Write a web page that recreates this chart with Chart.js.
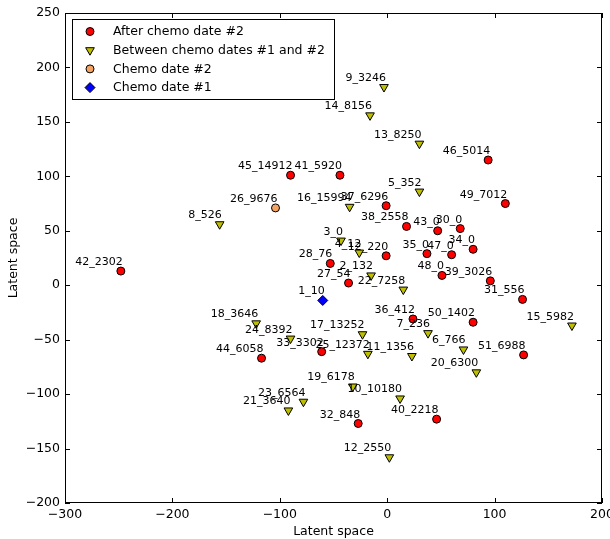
<!DOCTYPE html>
<html>
<head>
<meta charset="utf-8">
<script src="https://cdn.jsdelivr.net/npm/chart.js@4.4.0/dist/chart.umd.min.js"></script>
<style>
  body { margin: 0; background: #fff; }
</style>
</head>
<body>
<canvas id="latent" width="610" height="539"></canvas>
<script>
// After chemo date #2
const afterNames = ["42_2302", "45_14912", "41_5920", "37_6296", "46_5014", "49_7012", "38_2558", "43_0", "30_0", "12_220", "35_0", "47_0", "34_0", "28_76", "27_54", "48_0", "39_3026", "31_556", "36_412", "50_1402", "51_6988", "44_6058", "33_3302", "32_848", "40_2218"];
const afterX = [-248, -90, -44, -1, 94, 110, 18, 47, 68, -1, 37, 60, 80, -53, -36, 51, 96, 126, 24, 80, 127, -117, -61, -27, 46];
const afterY = [13, 101, 101, 73, 115, 75, 54, 50, 52, 27, 29, 28, 33, 20, 2, 9, 4, -13, -31, -34, -64, -67, -61, -127, -123];

// Between chemo dates #1 and #2
const betweenNames = ["9_3246", "14_8156", "13_8250", "5_352", "16_15994", "8_526", "3_0", "4_12", "2_132", "22_7258", "18_3646", "7_236", "17_13252", "24_8392", "25_12372", "11_1356", "15_5982", "6_766", "20_6300", "19_6178", "10_10180", "23_6564", "21_3640", "12_2550"];
const betweenX = [-3, -16, 30, 30, -35, -156, -43, -26, -15, 15, -122, 38, -23, -90, -18, 23, 172, 71, 83, -32, 12, -78, -92, 2];
const betweenY = [182, 156, 130, 86, 72, 56, 41, 30, 9, -4, -35, -44, -45, -49, -63, -65, -37, -59, -80, -93, -104, -107, -115, -158];

// Chemo date #2
const chemo2Names = ["26_9676"];
const chemo2X = [-104];
const chemo2Y = [71];

// Chemo date #1
const chemo1Names = ["1_10"];
const chemo1X = [-60];
const chemo1Y = [-14];

const FONT = "'DejaVu Sans', sans-serif";

function toPoints(xs, ys) {
  return xs.map((x, i) => ({ x: x, y: ys[i] }));
}

function minusTick(v) {
  return v < 0 ? "\u2212" + Math.abs(v) : String(v);
}

// labels next to points, box frame with inward ticks, legend inside the plot
const latentExtras = {
  id: "latentExtras",
  afterDatasetsDraw(chart) {
    const ctx = chart.ctx;
    const area = chart.chartArea;
    ctx.save();
    ctx.font = "11px " + FONT;
    ctx.fillStyle = "#000";
    ctx.textAlign = "right";
    ctx.textBaseline = "alphabetic";
    chart.data.datasets.forEach((ds, i) => {
      chart.getDatasetMeta(i).data.forEach((pt, j) => {
        ctx.fillText(ds.names[j], pt.x + 2, pt.y - 6);
      });
    });

    ctx.strokeStyle = "#000";
    ctx.lineWidth = 1;
    ctx.strokeRect(area.left + 0.5, area.top + 0.5, area.right - area.left - 1, area.bottom - area.top - 1);
    const xs = chart.scales.x;
    const ys = chart.scales.y;
    ctx.beginPath();
    xs.ticks.forEach((t) => {
      const px = Math.round(xs.getPixelForValue(t.value)) + 0.5;
      ctx.moveTo(px, area.bottom);
      ctx.lineTo(px, area.bottom - 5);
      ctx.moveTo(px, area.top);
      ctx.lineTo(px, area.top + 5);
    });
    ys.ticks.forEach((t) => {
      const py = Math.round(ys.getPixelForValue(t.value)) + 0.5;
      ctx.moveTo(area.left, py);
      ctx.lineTo(area.left + 5, py);
      ctx.moveTo(area.right, py);
      ctx.lineTo(area.right - 5, py);
    });
    ctx.stroke();
    ctx.restore();
  },
  afterDraw(chart) {
    const ctx = chart.ctx;
    const area = chart.chartArea;
    const bx = area.left + 7;
    const by = area.top + 6;
    ctx.save();
    ctx.fillStyle = "#fff";
    ctx.fillRect(bx, by, 262, 80);
    ctx.strokeStyle = "#000";
    ctx.lineWidth = 1;
    ctx.strokeRect(bx + 0.5, by + 0.5, 262, 80);
    ctx.font = "12.5px " + FONT;
    ctx.textAlign = "left";
    ctx.textBaseline = "middle";
    chart.data.datasets.forEach((ds, i) => {
      const y = by + 12.5 + i * 18.7;
      ctx.fillStyle = ds.backgroundColor;
      ctx.strokeStyle = ds.borderColor;
      ctx.lineWidth = ds.borderWidth;
      Chart.helpers.drawPoint(ctx, {
        pointStyle: ds.pointStyle,
        rotation: ds.rotation || 0,
        radius: ds.pointRadius,
        borderWidth: ds.borderWidth
      }, bx + 18, y);
      ctx.fillStyle = "#000";
      ctx.fillText(ds.label, bx + 41, y + 0.5);
    });
    ctx.restore();
  }
};

new Chart(document.getElementById("latent"), {
  type: "scatter",
  data: {
    datasets: [
      {
        label: "After chemo date #2",
        names: afterNames,
        data: toPoints(afterX, afterY),
        pointStyle: "circle",
        pointRadius: 4,
        backgroundColor: "#ff0000",
        borderColor: "#000",
        borderWidth: 1
      },
      {
        label: "Between chemo dates #1 and #2",
        names: betweenNames,
        data: toPoints(betweenX, betweenY),
        pointStyle: "triangle",
        rotation: 180,
        pointRadius: 5,
        backgroundColor: "#bfbf00",
        borderColor: "#000",
        borderWidth: 1
      },
      {
        label: "Chemo date #2",
        names: chemo2Names,
        data: toPoints(chemo2X, chemo2Y),
        pointStyle: "circle",
        pointRadius: 4,
        backgroundColor: "#f4a460",
        borderColor: "#000",
        borderWidth: 1
      },
      {
        label: "Chemo date #1",
        names: chemo1Names,
        data: toPoints(chemo1X, chemo1Y),
        pointStyle: "rectRot",
        pointRadius: 5,
        backgroundColor: "#0000ff",
        borderColor: "#000",
        borderWidth: 1
      }
    ]
  },
  options: {
    responsive: false,
    animation: false,
    layout: { padding: { top: 13, right: 8, left: 0, bottom: 0 } },
    plugins: {
      legend: { display: false },
      tooltip: { enabled: false }
    },
    scales: {
      x: {
        type: "linear",
        min: -300,
        max: 200,
        grid: { display: false, drawTicks: false },
        border: { display: false },
        ticks: {
          stepSize: 100,
          padding: 4,
          color: "#000",
          font: { family: FONT, size: 12.5 },
          maxRotation: 0,
          callback: minusTick
        },
        title: {
          display: true,
          text: "Latent space",
          color: "#000",
          font: { family: FONT, size: 12.5 },
          padding: { top: 0, bottom: 0 }
        },
        afterFit(scale) {
          scale.height = 36;
          scale.paddingLeft = 0;
          scale.paddingRight = 0;
        }
      },
      y: {
        type: "linear",
        min: -200,
        max: 250,
        grid: { display: false, drawTicks: false },
        border: { display: false },
        ticks: {
          stepSize: 50,
          padding: 5,
          color: "#000",
          font: { family: FONT, size: 12.5 },
          callback: minusTick
        },
        title: {
          display: true,
          text: "Latent space",
          color: "#000",
          font: { family: FONT, size: 12.5 },
          padding: { top: 6, bottom: 0 }
        },
        afterFit(scale) {
          scale.width = 65;
          scale.paddingTop = 0;
          scale.paddingBottom = 0;
        }
      }
    }
  },
  plugins: [latentExtras]
});
</script>
</body>
</html>
